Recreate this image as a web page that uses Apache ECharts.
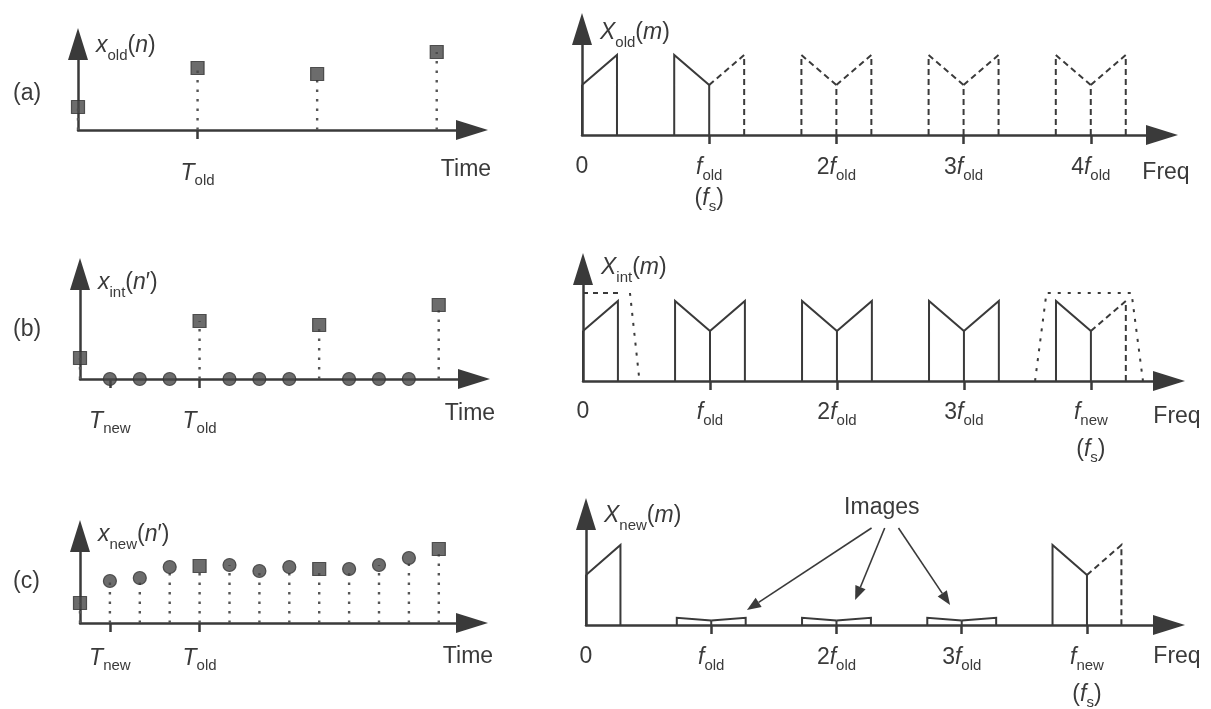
<!DOCTYPE html>
<html>
<head>
<meta charset="utf-8">
<script src="https://cdn.jsdelivr.net/npm/echarts@6/dist/echarts.min.js"></script>
<style>
  html, body { margin: 0; padding: 0; background: #ffffff; }
  #chart { width: 1211px; height: 709px; }
</style>
</head>
<body>
<div id="chart"></div>
<script>
// ---------- time-domain samples (heights in axis units) ----------
const oldSampleIdx = [0, 4, 8, 12];
const xOldValues = [23, 62, 56, 78];          // x_old(n)
const xIntOldValues = [21, 58, 54, 74];       // non-zero samples of x_int(n')
const zeroStuffIdx = [1, 2, 3, 5, 6, 7, 9, 10, 11];
const newSampleIdx = [0, 1, 2, 3, 4, 5, 6, 7, 8, 9, 10, 11, 12];
const xNewValues = [20, 42, 45, 56, 57, 58, 52, 56, 54, 54, 58, 65, 74]; // x_new(n')

// ---------- spectra (frequency in units of f_old) ----------
const bandEdge = 0.275;
const specLow = 50;
const specHigh = 80;
// [centre, gain, left half, right half, centre line]  style: 0 none, 1 solid, 2 dashed
const replicasOld = [[0, 1, 0, 1, 1], [1, 1, 1, 2, 1], [2, 1, 2, 2, 2], [3, 1, 2, 2, 2], [4, 1, 2, 2, 2]];
const replicasInt = [[0, 1, 0, 1, 1], [1, 1, 1, 1, 1], [2, 1, 1, 1, 1], [3, 1, 1, 1, 1], [4, 1, 1, 2, 1]];
const replicasNew = [[0, 1, 0, 1, 1], [1, 0.09, 1, 1, 1], [2, 0.09, 1, 1, 1], [3, 0.09, 1, 1, 1], [4, 1, 1, 2, 1]];
// interpolation filter outline
const lpfTop = [[0, 88], [0.30, 88]];
const lpfEdge = [[0.37, 88], [0.445, 0]];
const lpfImage = [[3.56, 0], [3.65, 88], [4.32, 88], [4.41, 0]];
// "Images" callout: [x0, y0, x1, y1]
const imageArrows = [[2.28, 97, 1.285, 15], [2.385, 97, 2.149, 25], [2.495, 97, 2.907, 20]];
const imagesLabelAt = [[2.362, 117]];

// ---------- tick labels ----------
const timeTicksA = [4];
const timeTextA = ['{i|T}{s|old}'];
const timeTicksBC = [1, 4];
const timeTextBC = ['{i|T}{s|new}', '{i|T}{s|old}'];
const freqTicks = [1, 2, 3, 4];
const freqLabelVals = [0, 1, 2, 3, 4];
const freqTextOld = ['{n|0}', '{i|f}{s|old}\n{p2|(}{i2|f}{s2|s}{p2|)}', '{n|2}{i|f}{s|old}', '{n|3}{i|f}{s|old}', '{n|4}{i|f}{s|old}'];
const freqTextNew = ['{n|0}', '{i|f}{s|old}', '{n|2}{i|f}{s|old}', '{n|3}{i|f}{s|old}', '{i|f}{s|new}\n{p2|(}{i2|f}{s2|s}{p2|)}'];

const INK = '#3a3a3a';
const MARK = '#474747';
const FONT = '"Liberation Sans", Arial, Helvetica, sans-serif';
const BIG = 23;
const SMALL = 15;

function richSet(lh, subTop, lh2, subTop2) {
  const base = { color: INK, fontFamily: FONT };
  return {
    n: Object.assign({ fontSize: BIG, lineHeight: lh }, base),
    i: Object.assign({ fontSize: BIG, lineHeight: lh, fontStyle: 'italic' }, base),
    p: Object.assign({ fontSize: BIG, lineHeight: lh }, base),
    s: Object.assign({ fontSize: SMALL, height: SMALL, padding: [subTop, 0, 0, 0] }, base),
    p2: Object.assign({ fontSize: BIG, lineHeight: lh2 || lh }, base),
    i2: Object.assign({ fontSize: BIG, lineHeight: lh2 || lh, fontStyle: 'italic' }, base),
    s2: Object.assign({ fontSize: SMALL, height: SMALL, padding: [subTop2 || subTop, 0, 0, 0] }, base)
  };
}

// panel layout: [left, top, width, height, xMax]
const panels = [
  [78, 44, 394, 86, 13.18],
  [80, 274, 394, 105, 13.18],
  [80, 536, 392, 87, 13.11],
  [582, 29, 580, 106, 4.56],
  [583, 269, 586, 112, 4.615],
  [586, 514, 583, 111, 4.655]
];

const arrowLine = {
  show: true,
  onZero: false,
  symbol: ['none', 'triangle'],
  symbolSize: [20, 32],
  lineStyle: { color: INK, width: 2.5 }
};

const grids = panels.map(p => ({ left: p[0], top: p[1], width: p[2], height: p[3], outerBoundsMode: 'none', containLabel: false }));

function xAxisFor(i, cfg) {
  const p = panels[i];
  return {
    type: 'value', gridIndex: i, min: 0, max: p[4],
    axisLine: arrowLine,
    splitLine: { show: false },
    axisTick: { show: true, customValues: cfg.ticks, length: 9, lineStyle: { color: INK, width: 2.5 } },
    axisLabel: {
      show: true, customValues: cfg.labelVals, margin: cfg.margin,
      formatter: v => cfg.texts[cfg.labelVals.indexOf(v)] || '',
      rich: cfg.rich
    },
    name: cfg.name, nameLocation: 'end', nameGap: cfg.nameGap, nameMoveOverlap: false,
    nameTextStyle: {
      fontSize: BIG, fontFamily: FONT, color: INK, lineHeight: 26,
      align: 'center', verticalAlign: 'top', padding: [cfg.namePad, 0, 0, 0]
    }
  };
}

function yAxisFor(i, name, gap) {
  const p = panels[i];
  return {
    type: 'value', gridIndex: i, min: 0, max: p[3],
    axisLine: arrowLine,
    splitLine: { show: false },
    axisTick: { show: false },
    axisLabel: { show: false },
    name: name, nameLocation: 'end', nameGap: gap, nameMoveOverlap: false,
    nameTextStyle: {
      align: 'left', verticalAlign: 'middle', padding: [0, 0, 0, 18],
      rich: richSet(28, 19)
    }
  };
}

const xAxes = [
  xAxisFor(0, { ticks: timeTicksA, labelVals: timeTicksA, texts: timeTextA, margin: 29, rich: richSet(28, 14), name: 'Time', nameGap: -6, namePad: 27 }),
  xAxisFor(1, { ticks: timeTicksBC, labelVals: timeTicksBC, texts: timeTextBC, margin: 28, rich: richSet(28, 14), name: 'Time', nameGap: -4, namePad: 22 }),
  xAxisFor(2, { ticks: timeTicksBC, labelVals: timeTicksBC, texts: timeTextBC, margin: 21, rich: richSet(28, 14), name: 'Time', nameGap: -4, namePad: 21 }),
  xAxisFor(3, { ticks: freqTicks, labelVals: freqLabelVals, texts: freqTextOld, margin: 18, rich: richSet(28, 15, 32, 16), name: 'Freq', nameGap: 4, namePad: 25 }),
  xAxisFor(4, { ticks: freqTicks, labelVals: freqLabelVals, texts: freqTextNew, margin: 17, rich: richSet(28, 15, 44, 16), name: 'Freq', nameGap: 8, namePad: 23 }),
  xAxisFor(5, { ticks: freqTicks, labelVals: freqLabelVals, texts: freqTextNew, margin: 18, rich: richSet(28, 15, 44, 16), name: 'Freq', nameGap: 8, namePad: 19 })
];

const yAxes = [
  yAxisFor(0, '{i|x}{s|old}{p|(}{i|n}{p|)}', -2),
  yAxisFor(1, '{i|x}{s|int}{p|(}{i|n}{p|\u2032)}', -9),
  yAxisFor(2, '{i|x}{s|new}{p|(}{i|n}{p|\u2032)}', 1),
  yAxisFor(3, '{i|X}{s|old}{p|(}{i|m}{p|)}', -4),
  yAxisFor(4, '{i|X}{s|int}{p|(}{i|m}{p|)}', 1),
  yAxisFor(5, '{i|X}{s|new}{p|(}{i|m}{p|)}', -2)
];

// ---------- renderers ----------
const DASH = { 1: null, 2: [6, 4] };

function seg(points, styleCode) {
  return {
    type: 'polyline',
    shape: { points: points },
    style: { stroke: INK, lineWidth: 2, fill: 'none', lineDash: DASH[styleCode] || null }
  };
}

function renderReplica(params, api) {
  const c = api.value(0), g = api.value(1);
  const lo = specLow * g, hi = specHigh * g;
  const P = (x, y) => api.coord([x, y]);
  const children = [];
  const left = api.value(2), right = api.value(3), mid = api.value(4);
  if (left) children.push(seg([P(c - bandEdge, 0), P(c - bandEdge, hi), P(c, lo)], left));
  if (right) children.push(seg([P(c, lo), P(c + bandEdge, hi), P(c + bandEdge, 0)], right));
  if (mid) children.push(seg([P(c, 0), P(c, lo)], mid));
  return { type: 'group', children: children };
}

function renderStem(params, api) {
  const v = api.value(1);
  if (!(v > 0)) return null;
  const a = api.coord([api.value(0), 0]);
  const b = api.coord([api.value(0), v]);
  return {
    type: 'line',
    shape: { x1: a[0], y1: a[1], x2: b[0], y2: b[1] },
    style: { stroke: '#555555', lineWidth: 2.4, lineDash: [2.5, 7] }
  };
}

function renderArrow(params, api) {
  const p0 = api.coord([api.value(0), api.value(1)]);
  const p1 = api.coord([api.value(2), api.value(3)]);
  const dx = p1[0] - p0[0], dy = p1[1] - p0[1];
  const len = Math.sqrt(dx * dx + dy * dy);
  const ux = dx / len, uy = dy / len;
  const headL = 14, headW = 5.5;
  const bx = p1[0] - ux * headL, by = p1[1] - uy * headL;
  return {
    type: 'group',
    children: [
      { type: 'line', shape: { x1: p0[0], y1: p0[1], x2: bx, y2: by }, style: { stroke: INK, lineWidth: 1.6 } },
      { type: 'polygon', shape: { points: [p1, [bx - uy * headW, by + ux * headW], [bx + uy * headW, by - ux * headW]] }, style: { fill: INK } }
    ]
  };
}

function renderCallout(params, api) {
  const p = api.coord([api.value(0), api.value(1)]);
  return {
    type: 'text', x: p[0], y: p[1],
    style: { text: 'Images', fontSize: BIG, fontFamily: FONT, fill: INK, align: 'center', verticalAlign: 'middle' }
  };
}

const pairs = (idx, vals) => idx.map((n, k) => [n, vals[k]]);
const markerStyle = { color: MARK, borderColor: '#333333', borderWidth: 1.2 };

function stems(i, data) {
  return { type: 'custom', xAxisIndex: i, yAxisIndex: i, renderItem: renderStem, data: data, silent: true, z: 2 };
}
function markers(i, data, symbol) {
  return { type: 'scatter', xAxisIndex: i, yAxisIndex: i, symbol: symbol, symbolSize: 13, itemStyle: markerStyle, data: data, silent: true, z: 4 };
}
function spectrum(i, data) {
  return { type: 'custom', xAxisIndex: i, yAxisIndex: i, renderItem: renderReplica, data: data, silent: true, z: 3 };
}
function outline(i, data, dash) {
  return {
    type: 'line', xAxisIndex: i, yAxisIndex: i, data: data, symbol: 'none', silent: true, z: 3,
    lineStyle: { color: INK, width: 2, type: dash }
  };
}

const newPairs = pairs(newSampleIdx, xNewValues);

const series = [
  // (a) x_old(n)
  stems(0, pairs(oldSampleIdx, xOldValues)),
  markers(0, pairs(oldSampleIdx, xOldValues), 'rect'),
  // (b) x_int(n')
  stems(1, pairs(oldSampleIdx, xIntOldValues)),
  markers(1, pairs(oldSampleIdx, xIntOldValues), 'rect'),
  markers(1, zeroStuffIdx.map(n => [n, 0]), 'circle'),
  // (c) x_new(n')
  stems(2, newPairs),
  markers(2, newPairs.filter(d => d[0] % 4 === 0), 'rect'),
  markers(2, newPairs.filter(d => d[0] % 4 !== 0), 'circle'),
  // spectra
  spectrum(3, replicasOld),
  spectrum(4, replicasInt),
  outline(4, lpfTop, [5, 5]),
  outline(4, lpfEdge, [3, 7]),
  outline(4, lpfImage, [3, 7]),
  spectrum(5, replicasNew),
  { type: 'custom', xAxisIndex: 5, yAxisIndex: 5, renderItem: renderArrow, data: imageArrows, silent: true, z: 3 },
  { type: 'custom', xAxisIndex: 5, yAxisIndex: 5, renderItem: renderCallout, data: imagesLabelAt, silent: true, z: 3 }
];

const panelTags = [['(a)', 94], ['(b)', 330], ['(c)', 582]];

const chart = echarts.init(document.getElementById('chart'), null, { renderer: 'canvas' });
chart.setOption({
  animation: false,
  backgroundColor: '#ffffff',
  textStyle: { fontFamily: FONT, color: INK },
  grid: grids,
  xAxis: xAxes,
  yAxis: yAxes,
  series: series,
  graphic: panelTags.map(t => ({
    type: 'text', x: 13, y: t[1],
    style: { text: t[0], fontSize: BIG, fontFamily: FONT, fill: INK, verticalAlign: 'middle' }
  }))
});
</script>
</body>
</html>
